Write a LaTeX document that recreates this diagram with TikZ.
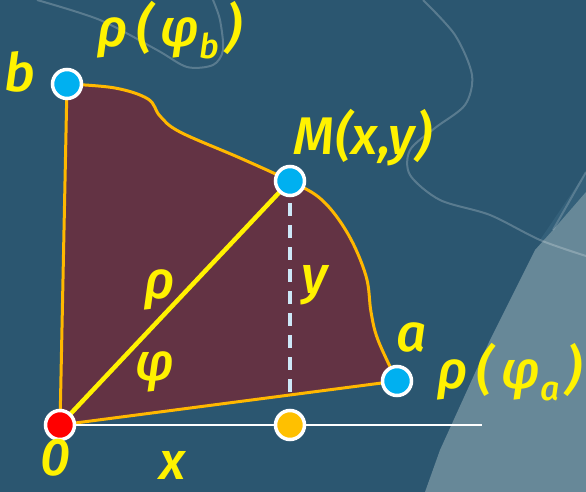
\documentclass[tikz,border=0pt]{standalone}
\usepackage{fontspec}
\setmainfont{Fira Sans}[ItalicFont={Fira Sans Medium Italic}]
\usetikzlibrary{positioning,calc,backgrounds}
\definecolor{slidebg}{RGB}{43,86,112}
\definecolor{slidemid}{RGB}{52,96,122}
\definecolor{slidelight}{RGB}{103,136,152}
\definecolor{regionfill}{RGB}{99,51,68}
\definecolor{edgeorange}{RGB}{255,184,0}
\definecolor{dotblue}{RGB}{0,176,240}
\definecolor{dotorange}{RGB}{255,192,0}
\definecolor{dashblue}{RGB}{205,232,248}
\newcommand{\subl}[1]{\raisebox{-0.24em}{\fontsize{34}{34}\selectfont #1}}

\begin{document}
\begin{tikzpicture}[x=1pt,y=1pt,
    dot/.style={circle,draw=white,line width=3.5pt,minimum size=29pt,inner sep=0pt},
    lbl/.style={text=yellow,font=\fontsize{53}{58}\selectfont\itshape,inner sep=0pt}]
        \useasboundingbox (0,0) rectangle (586,492);
        % ---- nuqtalar ----
        \node[dot,fill=red]       (O) at (60,67)   {};
        \node[dot,fill=dotorange] (X) at (290,67)  {};
        \node[dot,fill=dotblue]   (a) at (397,111) {};
        \node[dot,fill=dotblue]   (M) at (290,311) {};
        \node[dot,fill=dotblue]   (b) at (67,408)  {};
        \coordinate (xend)  at (482,67);
        \coordinate (yfoot) at (290,97);
        % ---- fon va soha ----
        \begin{scope}[on background layer]
          \fill[slidebg] (0,0) rectangle (586,492);
          \fill[slidemid] (540,252) -- (586,320) -- (586,252) -- cycle;
          \fill[slidelight] (586,300) -- (553,262) -- (535,242) -- (490,152)
              -- (440,42) -- (425,0) -- (586,0) -- cycle;
          \draw[white,opacity=0.22,line width=2pt] plot[smooth] coordinates
              {(37,492) (100,472) (157,442) (187,425) (213,427) (223,442) (220,472) (213,492)};
          \draw[white,opacity=0.22,line width=2pt] plot[smooth] coordinates
              {(423,492) (455,457) (472,417) (465,387) (435,364) (410,342) (410,317)
               (440,292) (490,277) (540,252) (586,236)};
          \draw[white,opacity=0.18,line width=2pt] (586,320) -- (553,262);
          % ---- egri chiziqli sektor ----
          \filldraw[fill=regionfill,draw=edgeorange,line width=3pt,line join=round]
              plot[smooth,tension=0.6] coordinates
              {(b.center) (115,404) (148,393) (160,376) (180,360) (240,334) (M.center)
               (322,292) (348,258) (366,216) (371,180) (378,152) (a.center)}
              -- (O.center) -- cycle;
          \draw[white,line width=2.5pt] (O.center) -- (xend);
          \draw[dashblue,line width=3.5pt,dash pattern=on 13pt off 9pt] (M.center) -- (yfoot);
          \draw[yellow,line width=4.5pt] (O.center) -- (M.center);
        \end{scope}
        % ---- belgilar ----
        \node[lbl] (lb)   at (20,420)  {b};
        \node[lbl] (lrb)  at (170,462) {ρ\kern8pt(\kern8ptφ\subl{b}\kern6pt)};
        \node[lbl] (lM)   at (363,354) {M(x,y)};
        \node[lbl] (lrho) at (160,202) {ρ};
        \node[lbl] (lphi) at (155,120) {φ};
        \node[lbl] (ly)   at (315,207) {y};
        \node[lbl] (la)   at (412,155) {a};
        \node[lbl] (lra)  at (510,120) {ρ\kern8pt(\kern8ptφ\subl{a}\kern6pt)};
        \node[lbl] (l0)   at (55,34)   {0};
        \node[lbl] (lx)   at (173,27)  {x};
      \end{tikzpicture}
\end{document}
